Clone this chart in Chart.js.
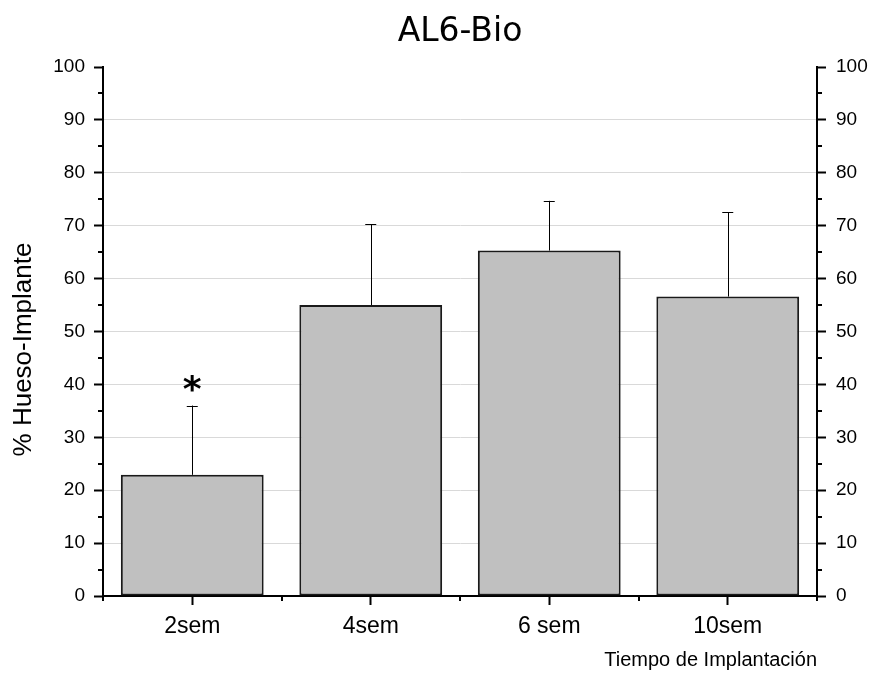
<!DOCTYPE html>
<html>
<head>
<meta charset="utf-8">
<script src="https://cdn.jsdelivr.net/npm/chart.js@4.4.0/dist/chart.umd.min.js"></script>
<style>
  html, body { margin: 0; padding: 0; background: #ffffff; }
  #wrap { width: 869px; height: 673px; }
</style>
</head>
<body>
<div id="wrap"><canvas id="boneChart"></canvas></div>
<script>
// ================= DATA =================
const categories = ["2sem", "4sem", "6 sem", "10sem"];
const meanValues = [22.9, 55.0, 65.3, 56.6];
const errorValues = [13.1, 15.3, 9.4, 15.9];
const markers = ["*", "", "", ""];
const yTicks = [0, 10, 20, 30, 40, 50, 60, 70, 80, 90, 100];
const yMinorTicks = [5, 15, 25, 35, 45, 55, 65, 75, 85, 95];
const yTitle = "% Hueso-Implante";

const tickFont = { family: "Liberation Sans, Arial, sans-serif", size: 19 };

// error bars, asterisk, minor ticks and the left axis title
const extrasPlugin = {
    id: "extras",
    afterDatasetsDraw(chart) {
        const ctx = chart.ctx;
        const meta = chart.getDatasetMeta(0);
        const y = chart.scales.y;
        ctx.save();
        ctx.strokeStyle = "#000000";
        ctx.lineWidth = 1;
        meta.data.forEach((bar, i) => {
            const top = y.getPixelForValue(meanValues[i] + errorValues[i]);
            const base = y.getPixelForValue(meanValues[i]);
            ctx.beginPath();
            ctx.moveTo(Math.round(bar.x) + 0.5, base);
            ctx.lineTo(Math.round(bar.x) + 0.5, top);
            ctx.moveTo(bar.x - 5.5, Math.round(top) + 0.5);
            ctx.lineTo(bar.x + 5.5, Math.round(top) + 0.5);
            ctx.stroke();
            if (markers[i]) {
                ctx.fillStyle = "#000000";
                ctx.font = "bold 36px 'DejaVu Sans'";
                ctx.textAlign = "center";
                ctx.textBaseline = "alphabetic";
                ctx.fillText(markers[i], bar.x, top - 5);
            }
        });
        ctx.restore();
    },
    afterDraw(chart) {
        const ctx = chart.ctx;
        const area = chart.chartArea;
        const y = chart.scales.y;
        ctx.save();
        ctx.strokeStyle = "#000000";
        ctx.lineWidth = 2;
        ctx.beginPath();
        yMinorTicks.forEach(v => {
            const py = Math.round(y.getPixelForValue(v));
            ctx.moveTo(area.left - 5, py);
            ctx.lineTo(area.left, py);
            ctx.moveTo(area.right, py);
            ctx.lineTo(area.right + 5, py);
        });
        const step = (area.right - area.left) / categories.length;
        for (let i = 0; i <= categories.length; i++) {
            const px = Math.round(area.left + i * step);
            ctx.moveTo(px, area.bottom);
            ctx.lineTo(px, area.bottom + 5);
        }
        ctx.stroke();

        ctx.translate(24, (area.top + area.bottom) / 2 + 18);
        ctx.rotate(-Math.PI / 2);
        ctx.fillStyle = "#000000";
        ctx.font = "26px 'Liberation Sans', Arial, sans-serif";
        ctx.textAlign = "center";
        ctx.textBaseline = "middle";
        ctx.fillText(yTitle, 0, 0);
        ctx.restore();
    }
};

const gridColor = ctx => (ctx.tick && (ctx.tick.value === 0 || ctx.tick.value === 100)) ? "rgba(0,0,0,0)" : "#d9d9d9";

const boneChart = new Chart(document.getElementById("boneChart"), {
    type: "bar",

    data: {
        labels: categories,
        datasets: [{
            label: yTitle,
            data: meanValues,
            backgroundColor: "#c0c0c0",
            borderColor: "#1a1a1a",
            borderWidth: 2,
            borderSkipped: false,
            barPercentage: 0.8,
            categoryPercentage: 1.0
        }]
    },

    options: {
        responsive: true,
        maintainAspectRatio: false,
        animation: false,
        layout: { padding: 0 },

        plugins: {
            legend: { display: false },
            tooltip: { enabled: false },
            title: {
                display: true,
                fullSize: false,
                text: "AL6-Bio",
                color: "#000000",
                font: { family: "DejaVu Sans", size: 33, weight: "normal" },
                padding: { top: 13, bottom: 14.4 }
            }
        },

        scales: {
            x: {
                grid: {
                    offset: false,
                    drawOnChartArea: false,
                    color: "#000000",
                    tickColor: "#000000",
                    tickLength: 9,
                    tickWidth: 2
                },
                border: { color: "#000000", width: 2 },
                ticks: { color: "#000000", font: { family: "Liberation Sans, Arial, sans-serif", size: 23 }, padding: 8 },
                title: {
                    display: true,
                    text: "Tiempo de Implantación",
                    align: "end",
                    color: "#000000",
                    font: { family: "Liberation Sans, Arial, sans-serif", size: 20 },
                    padding: { top: 0, bottom: 1 }
                },
                afterFit: s => { s.height = 77; }
            },

            y: {
                position: "left",
                min: 0,
                max: 100,
                afterBuildTicks: s => { s.ticks = yTicks.map(v => ({ value: v })); },
                grid: {
                    color: gridColor,
                    lineWidth: 1,
                    tickColor: "#000000",
                    tickLength: 9,
                    tickWidth: 2
                },
                border: { color: "#000000", width: 2 },
                ticks: { color: "#000000", font: tickFont, padding: 9 },
                afterFit: s => { s.width = 103; }
            },

            y2: {
                position: "right",
                min: 0,
                max: 100,
                afterBuildTicks: s => { s.ticks = yTicks.map(v => ({ value: v })); },
                grid: {
                    drawOnChartArea: false,
                    tickColor: "#000000",
                    tickLength: 9,
                    tickWidth: 2
                },
                border: { color: "#000000", width: 2 },
                ticks: { color: "#000000", font: tickFont, padding: 10 },
                afterFit: s => { s.width = 52; }
            }
        }
    },

    plugins: [extrasPlugin]
});
</script>
</body>
</html>
